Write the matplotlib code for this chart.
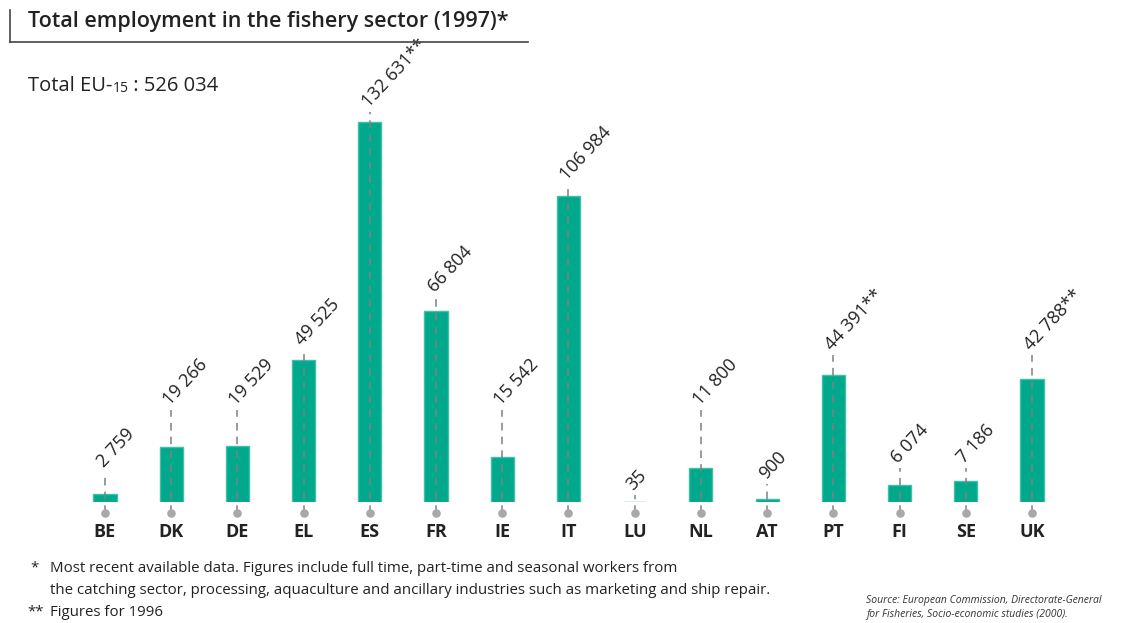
import matplotlib.pyplot as plt
from matplotlib import font_manager

countries = ["BE", "DK", "DE", "EL", "ES", "FR", "IE", "IT", "LU", "NL", "AT", "PT", "FI", "SE", "UK"]
employment = [2759, 19266, 19529, 49525, 132631, 66804, 15542, 106984, 35, 11800, 900, 44391, 6074, 7186, 42788]
notes = ["", "", "", "", "**", "", "", "", "", "", "", "**", "", "", "**"]
# height (in data units) where each leader line stops and its label starts
leader_top = [10500, 32100, 32100, 53000, 136000, 71500, 32100, 110600, 2400, 32100, 6300, 51300, 11900, 11900, 51300]

total_label = "526 034"
title = "Total employment in the fishery sector (1997)*"
foot1 = "Most recent available data. Figures include full time, part-time and seasonal workers from"
foot2 = "the catching sector, processing, aquaculture and ancillary industries such as marketing and ship repair."
foot3 = "Figures for 1996"
source1 = "Source: European Commission, Directorate-General"
source2 = "for Fisheries, Socio-economic studies (2000)."

names = {f.name for f in font_manager.fontManager.ttflist}
main_font = ["Open Sans", "DejaVu Sans"]
narrow_font = ["Liberation Sans Narrow", "Open Sans", "DejaVu Sans"] if "Liberation Sans Narrow" in names else ["Open Sans", "DejaVu Sans"]
plt.rcParams["font.family"] = main_font

teal = "#00a88c"
grey_line = "#808080"
dot_grey = "#a8a8a8"
txt = "#222222"

fig = plt.figure(figsize=(11.39, 6.23), dpi=100)
ax = fig.add_axes([0.0631, 0.1942, 0.872, 0.6437])

x = range(len(countries))
ax.bar(x, employment, width=0.35, color=teal, edgecolor="#40c0a6", linewidth=1.0, zorder=2)

dot_y = -3840
for i, (v, top, n) in enumerate(zip(employment, leader_top, notes)):
    ax.plot([i, i], [dot_y, top], color=grey_line, lw=1.1, linestyle=(0, (5, 4)), zorder=3, clip_on=False)
    label = f"{v:,}".replace(",", " ") + n
    ax.text(i - 0.02, top + 1500, label, rotation=47, rotation_mode="anchor", ha="left", va="baseline",
            fontsize=13, fontweight="medium", color="#222222", clip_on=False)
ax.scatter(list(x), [dot_y] * len(countries), s=38, color=dot_grey, zorder=4, clip_on=False, linewidths=0)

ax.set_xlim(-0.5, len(countries) - 0.5)
ax.set_ylim(0, 140000)
ax.set_xticks(list(x))
ax.set_xticklabels(countries, fontsize=13, fontweight="bold", color=txt)
ax.tick_params(axis="x", length=0, pad=15)
ax.set_yticks([])
for s in ax.spines.values():
    s.set_visible(False)

# title with frame
fig.text(28 / 1139, 1 - 22 / 623, title, fontsize=15.5, fontweight="semibold", color=txt, va="center", ha="left")
fig.add_artist(plt.Line2D([10 / 1139, 10 / 1139], [1 - 10 / 623, 1 - 42 / 623], color="#444444", lw=1.2))
fig.add_artist(plt.Line2D([10 / 1139, 528 / 1139], [1 - 42 / 623, 1 - 42 / 623], color="#444444", lw=1.2))

# total line with small "15"
t1 = fig.text(28 / 1139, 1 - 91 / 623, "Total EU-", fontsize=14.5, color=txt, va="baseline", ha="left")
t2 = ax.annotate("15", xy=(1, 0), xycoords=t1, fontsize=10, color=txt, va="bottom", ha="left")
ax.annotate(" : " + total_label, xy=(1, 0), xycoords=t2, fontsize=14.5, color=txt, va="bottom", ha="left")

# footnotes
fs = 10.8
fig.text(30 / 1139, 1 - 568 / 623, "*", fontsize=fs, color=txt, va="center", family=narrow_font)
fig.text(50 / 1139, 1 - 568 / 623, foot1, fontsize=fs, color=txt, va="center", family=narrow_font)
fig.text(50 / 1139, 1 - 591 / 623, foot2, fontsize=fs, color=txt, va="center", family=narrow_font)
fig.text(27 / 1139, 1 - 612 / 623, "**", fontsize=fs, color=txt, va="center", family=narrow_font)
fig.text(50 / 1139, 1 - 612 / 623, foot3, fontsize=fs, color=txt, va="center", family=narrow_font)

fig.text(866 / 1139, 1 - 600 / 623, source1, fontsize=7.5, style="italic", color="#333333", va="center")
fig.text(866 / 1139, 1 - 614 / 623, source2, fontsize=7.5, style="italic", color="#333333", va="center")

plt.savefig("out.png", dpi=100)
